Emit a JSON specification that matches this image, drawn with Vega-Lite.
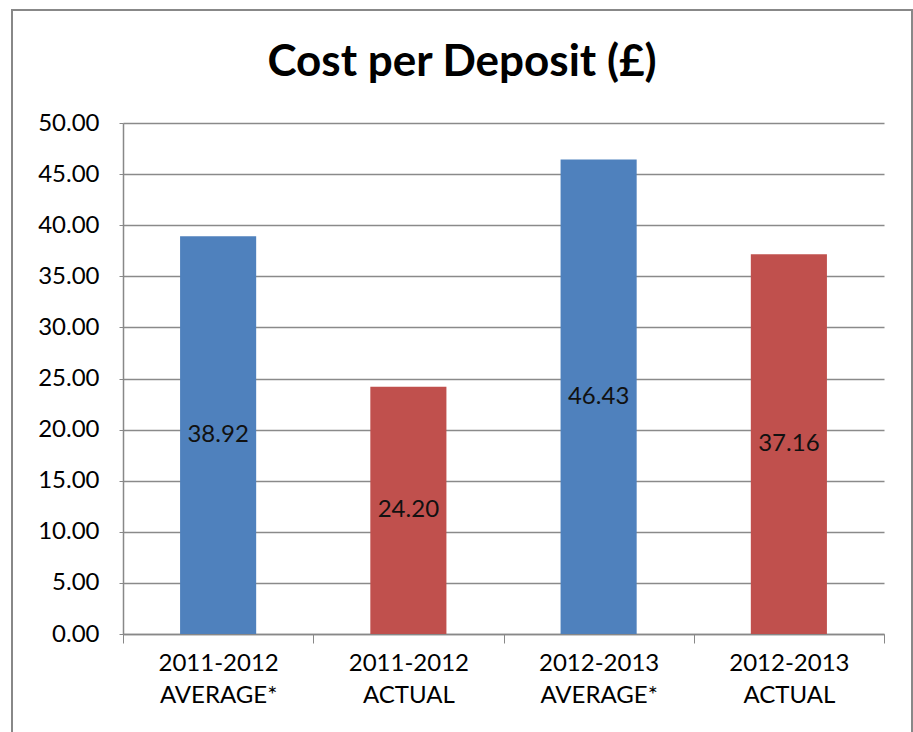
{
  "$schema": "https://vega.github.io/schema/vega-lite/v6.json",
  "width": 900,
  "height": 730,
  "autosize": "none",
  "padding": {"left": 12, "top": 10, "right": 1, "bottom": 0},
  "background": "white",
  "title": {
    "text": "Cost per Deposit (£)",
    "font": "Lato",
    "fontSize": 44,
    "fontWeight": "bold",
    "color": "black",
    "anchor": "middle",
    "baseline": "alphabetic",
    "offset": -110
  },
  "config": {
    "view": {"stroke": "#888888", "strokeWidth": 2},
    "axis": {"labelFont": "Lato", "labelFontSize": 24, "labelColor": "black"}
  },
  "data": {
    "values": [
      {"category": "2011-2012 AVERAGE*", "type": "AVERAGE", "value": 38.92},
      {"category": "2011-2012 ACTUAL", "type": "ACTUAL", "value": 24.20},
      {"category": "2012-2013 AVERAGE*", "type": "AVERAGE", "value": 46.43},
      {"category": "2012-2013 ACTUAL", "type": "ACTUAL", "value": 37.16}
    ]
  },
  "resolve": {"scale": {"y": "independent"}, "axis": {"y": "independent"}},
  "layer": [
    {
      "mark": {"type": "bar", "width": {"band": 0.4}},
      "encoding": {
        "x": {
          "field": "category",
          "type": "nominal",
          "sort": null,
          "scale": {"range": [111, 872], "paddingInner": 0, "paddingOuter": 0},
          "axis": {
            "orient": "bottom",
            "title": null,
            "offset": -106,
            "tickBand": "extent",
            "labelAngle": 0,
            "domainColor": "#888888",
            "domainWidth": 1.5,
            "tickColor": "#888888",
            "tickSize": 9,
            "tickWidth": 1,
            "labelPadding": 8,
            "labelBaseline": "top",
            "labelLineHeight": 32,
            "labelFlush": false,
            "labelBound": false,
            "labelOverlap": false,
            "labelExpr": "isValid(datum.value) ? split(datum.value, ' ') : ''"
          }
        },
        "y": {
          "field": "value",
          "type": "quantitative",
          "scale": {"domain": [0, 50], "range": [624, 113], "nice": false, "zero": true},
          "axis": {
            "orient": "left",
            "title": null,
            "offset": -111,
            "values": [0, 5, 10, 15, 20, 25, 30, 35, 40, 45, 50],
            "format": ".2f",
            "grid": true,
            "gridColor": "#8a8a8a",
            "gridWidth": 1.5,
            "domainColor": "#888888",
            "domainWidth": 1.5,
            "tickColor": "#888888",
            "tickSize": 4,
            "labelPadding": 20,
            "labelBaseline": "middle"
          }
        },
        "color": {
          "field": "type",
          "type": "nominal",
          "scale": {"domain": ["AVERAGE", "ACTUAL"], "range": ["#4F81BD", "#C0504D"]},
          "legend": null
        }
      }
    },
    {
      "mark": {"type": "text", "font": "Lato", "fontSize": 24, "color": "#111111", "baseline": "middle", "align": "center"},
      "encoding": {
        "x": {
          "field": "category",
          "type": "nominal",
          "sort": null
        },
        "y": {
          "field": "value",
          "type": "quantitative",
          "scale": {"domain": [0, 100], "range": [624, 113], "nice": false, "zero": true},
          "axis": null
        },
        "text": {"field": "value", "type": "quantitative", "format": ".2f"}
      }
    }
  ]
}
